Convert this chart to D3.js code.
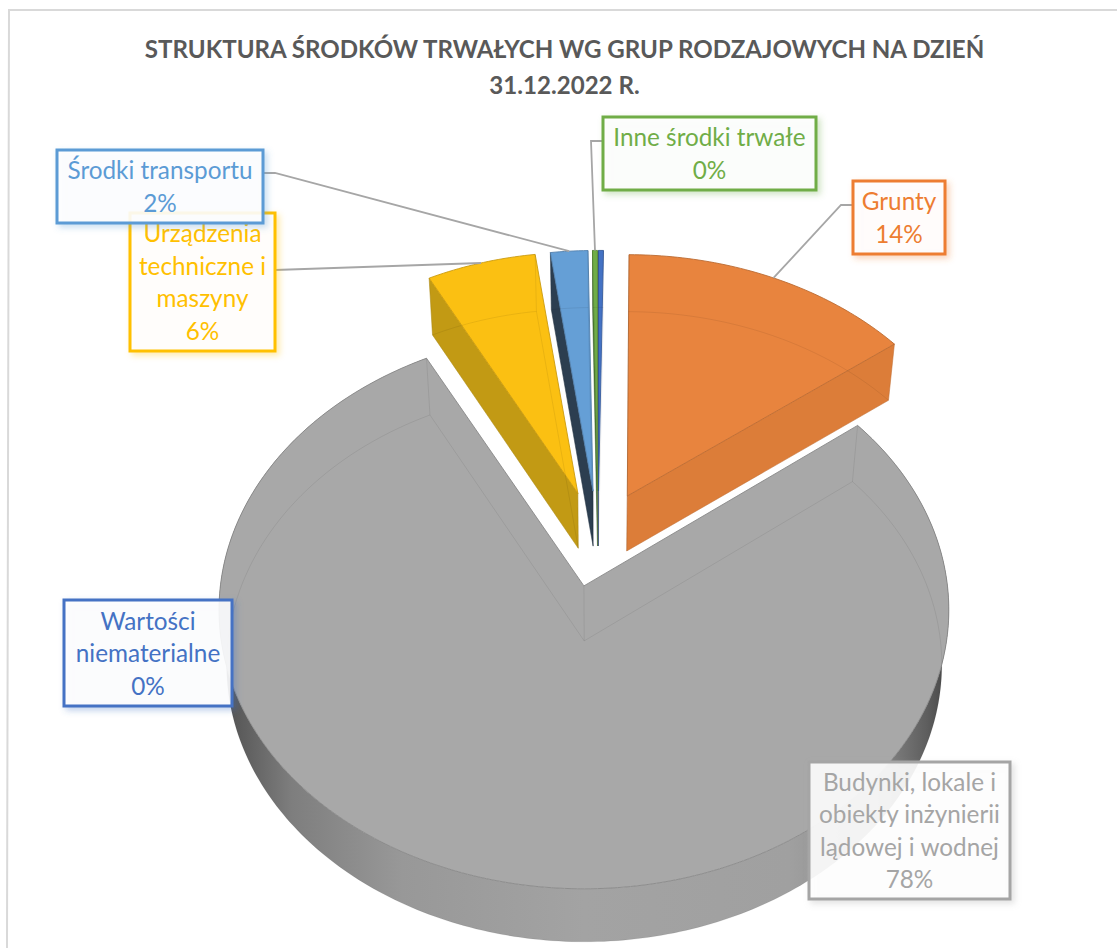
<!DOCTYPE html>
<html>
<head>
<meta charset="utf-8">
<script src="https://cdn.jsdelivr.net/npm/d3@7"></script>
<style>
    html, body { margin: 0; padding: 0; background: #fff; }
    svg { display: block; }
    text { font-family: Lato, "Noto Sans", sans-serif; }
</style>
</head>
<body>
<div id="chart"></div>
<script>
const titleLines = ["STRUKTURA ŚRODKÓW TRWAŁYCH WG GRUP RODZAJOWYCH NA DZIEŃ", "31.12.2022 R."];
const categories = ["Grunty", "Budynki, lokale i obiekty inżynierii lądowej i wodnej", "Urządzenia techniczne i maszyny", "Środki transportu", "Inne środki trwałe", "Wartości niematerialne"];
const values = [14.45, 77.6, 5.55, 1.9, 0.25, 0.25];
const labelLines = [
    ["Grunty"],
    ["Budynki, lokale i", "obiekty inżynierii", "lądowej i wodnej"],
    ["Urządzenia", "techniczne i", "maszyny"],
    ["Środki transportu"],
    ["Inne środki trwałe"],
    ["Wartości", "niematerialne"]
];
const colors = ["#ed7d31", "#a5a5a5", "#ffc000", "#5b9bd5", "#70ad47", "#4472c4"];
const topColors = ["#e8843e", "#a8a8a8", "#fbc012", "#659fd6", "#70ad47", "#4472c4"];
const wallColors = ["#dc7d39", "#a0a0a0", "#c29a14", "#2c3e50", "#3f6b2a", "#2a4a85"];

// label boxes [x0, y0, x1, y1]
const boxes = [
    [853, 181, 945, 254],
    [809, 762, 1010, 899],
    [130, 213, 275, 351],
    [57, 150, 263, 223],
    [603, 117, 816, 190],
    [64, 600, 232, 706]
];
const leaders = [
    { from: [853, 205], elbow: [841, 205] },
    null,
    { from: [275, 270], elbow: null },
    { from: [263, 173], elbow: [275, 173] },
    { from: [603, 141], elbow: [591, 141] },
    null
];

const width = 1117;
const height = 948;

const svg = d3.select("#chart")
    .append("svg")
    .attr("width", width)
    .attr("height", height)
    .attr("viewBox", [0, 0, width, height]);

// chart frame, only top and left are inside the picture
svg.append("path")
    .attr("d", "M7,948 L9,10 L1117,10")
    .attr("fill", "none")
    .attr("stroke", "#d9d9d9")
    .attr("stroke-width", 2);

svg.append("g")
    .selectAll("text")
    .data(titleLines)
    .join("text")
    .attr("x", 564.5)
    .attr("y", (d, i) => 57.5 + i * 36)
    .attr("text-anchor", "middle")
    .attr("font-size", 24.1)
    .attr("font-weight", 700)
    .attr("fill", "#595959")
    .text(d => d);

// pie, then a bit over the full turn so the slivers land where they do in the original
// (d3.pie clamps its span to 2pi so the stretch is done with a scale)
const arcs = d3.pie().sort(null).value(d => d)(values);
const angle = d3.scaleLinear()
    .domain([0, 2 * Math.PI])
    .range([0.3 * Math.PI / 180, 360.9 * Math.PI / 180]);

// perspective of the tilted disc
const center = [598, 539];
const explodeX = 66;
const explodeY = 48;
const radiusX = 363.6;
const radiusY = 276.9;
const persp = 0.086;

const slices = arcs.map((a, i) => {
    const a0 = angle(a.startAngle);
    const a1 = angle(a.endAngle);
    const mid = (a0 + a1) / 2;
    const apex = [center[0] + explodeX * Math.sin(mid), center[1] - explodeY * Math.cos(mid)];
    const scale = 0.972 - 0.0285 * Math.cos(mid);
    const scaleX = scale + 0.066 * Math.max(0, Math.sin(mid));
    return { i, a0, a1, mid, apex, scale, scaleX };
});

function topPoint(s, t) {
    const w = 1 + persp * Math.cos(t);
    return [
        s.apex[0] + s.scaleX * radiusX * Math.sin(t) / w,
        s.apex[1] - s.scale * radiusY * Math.cos(t) / w
    ];
}
function lower(p, v) {
    return [center[0] + (p[0] - center[0]) * 0.98, p[1] + 55 + 2 * v];
}
function bottomPoint(s, t) {
    return lower(topPoint(s, t), Math.cos(t));
}
function samples(a0, a1) {
    const n = Math.max(2, Math.ceil(Math.abs(a1 - a0) * 60));
    return d3.range(n + 1).map(k => a0 + (a1 - a0) * k / n);
}
const line = d3.line();

const defs = svg.append("defs");

const rimStops = [[0, "#4e4e4e"], [0.03, "#5c5c5c"], [0.1, "#7e7e7e"], [0.25, "#989898"], [0.5, "#a3a3a3"], [0.78, "#a0a0a0"], [0.9, "#8a8a8a"], [0.97, "#5e5e5e"], [1, "#444444"]];
defs.append("linearGradient")
    .attr("id", "rim")
    .selectAll("stop")
    .data(rimStops)
    .join("stop")
    .attr("offset", d => d[0])
    .attr("stop-color", d => d[1]);

colors.forEach((c, i) => {
    defs.append("filter")
        .attr("id", "shadow" + i)
        .attr("x", "-20%").attr("y", "-20%")
        .attr("width", "140%").attr("height", "140%")
        .append("feDropShadow")
        .attr("dx", 3).attr("dy", 3)
        .attr("stdDeviation", 3)
        .attr("flood-color", c)
        .attr("flood-opacity", 0.35);
});

const pie = svg.append("g");

slices.forEach(s => {
    const g = pie.append("g");
    const topArc = samples(s.a0, s.a1).map(t => topPoint(s, t));
    const bottomArc = samples(s.a0, s.a1).map(t => bottomPoint(s, t));
    const apexLow = lower(s.apex, 0);

    // outer rim, only the big slice reaches the front
    if (s.i === 1) {
        g.append("path")
            .attr("d", line(topArc.concat(bottomArc.slice().reverse())) + "Z")
            .attr("fill", "url(#rim)");
    }

    // the cut wall that faces the viewer
    const wallAngle = s.mid < Math.PI ? s.a1 : s.a0;
    const wallTop = topPoint(s, wallAngle);
    const wallLow = bottomPoint(s, wallAngle);
    if (s.i !== 1) {
        g.append("path")
            .attr("d", line([s.apex, wallTop, wallLow, apexLow]) + "Z")
            .attr("fill", wallColors[s.i])
            .attr("stroke", wallColors[s.i])
            .attr("stroke-width", 0.5);
    }

    // top face
    g.append("path")
        .attr("d", line([s.apex].concat(topArc)) + "Z")
        .attr("fill", topColors[s.i])
        .attr("stroke", d3.color(topColors[s.i]).darker(0.6))
        .attr("stroke-width", 0.9);

    // bottom outline showing through the glass
    g.append("path")
        .attr("d", line([apexLow].concat(bottomArc)) + "Z")
        .attr("fill", "none")
        .attr("stroke", "#000")
        .attr("stroke-opacity", 0.07)
        .attr("stroke-width", 1);
    g.append("path")
        .attr("d", line([s.apex, apexLow]) + "M" + line([topArc[0], bottomArc[0]]).slice(1) + "M" + line([topArc[topArc.length - 1], bottomArc[bottomArc.length - 1]]).slice(1))
        .attr("fill", "none")
        .attr("stroke", "#000")
        .attr("stroke-opacity", 0.07)
        .attr("stroke-width", 1);
});

// leader lines end on the middle of each slice rim
const leaderG = svg.append("g")
    .attr("fill", "none")
    .attr("stroke", "#a6a6a6")
    .attr("stroke-width", 1.8);
leaders.forEach((l, i) => {
    if (!l) return;
    const end = topPoint(slices[i], slices[i].mid);
    const pts = l.elbow ? [l.from, l.elbow, end] : [l.from, end];
    leaderG.append("path").attr("d", line(pts));
});

// data labels, Urządzenia sits under Środki transportu
const lineHeight = 32.5;
const fmt = d3.format(".0%");
const total = d3.sum(values);
const labelG = svg.append("g");
boxes.forEach(([x0, y0, x1, y1], i) => {
    const g = labelG.append("g");
    g.append("rect")
        .attr("x", x0).attr("y", y0)
        .attr("width", x1 - x0).attr("height", y1 - y0)
        .attr("fill", "#fff")
        .attr("fill-opacity", 0.88)
        .attr("stroke", colors[i])
        .attr("stroke-width", 3)
        .attr("filter", `url(#shadow${i})`);
    const rows = labelLines[i].concat(fmt(values[i] / total));
    g.selectAll("text")
        .data(rows)
        .join("text")
        .attr("x", (x0 + x1) / 2)
        .attr("y", (d, k) => (y0 + y1) / 2 + 0.5 + (k - (rows.length - 1) / 2) * lineHeight)
        .attr("dy", "0.35em")
        .attr("text-anchor", "middle")
        .attr("font-size", 24.3)
        .attr("fill", colors[i])
        .text(d => d);
});
</script>
</body>
</html>
